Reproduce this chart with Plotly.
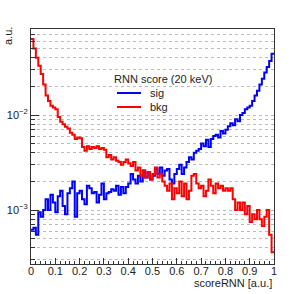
import numpy as np
import plotly.graph_objects as go

# 100 bins on [0, 1]
bin_edges = [round(i * 0.01, 2) for i in range(101)]

sig = [0.00062, 0.00065, 0.00055, 0.00095, 0.00085, 0.00100, 0.00130, 0.00100, 0.00145, 0.00120,
       0.00095, 0.00140, 0.00160, 0.00110, 0.00090, 0.00150, 0.00170, 0.00200, 0.00085, 0.00150,
       0.00160, 0.00130, 0.00115, 0.00180, 0.00170, 0.00150, 0.00155, 0.00120, 0.00145, 0.00190,
       0.00130, 0.00150, 0.00155, 0.00165, 0.00160, 0.00180, 0.00145, 0.00175, 0.00150, 0.00175,
       0.00190, 0.00240, 0.00210, 0.00190, 0.00230, 0.00200, 0.00260, 0.00220, 0.00250, 0.00210,
       0.00230, 0.00270, 0.00240, 0.00280, 0.00230, 0.00260, 0.00270, 0.00210, 0.00190, 0.00240,
       0.00270, 0.00300, 0.00240, 0.00280, 0.00320, 0.00360, 0.00340, 0.00400, 0.00420, 0.00440,
       0.00500, 0.00470, 0.00550, 0.00460, 0.00560, 0.00600, 0.00620, 0.00580, 0.00680, 0.00640,
       0.00700, 0.00760, 0.00820, 0.00780, 0.00900, 0.00860, 0.01000, 0.01050, 0.01150, 0.01200,
       0.01250, 0.01400, 0.01600, 0.01800, 0.02100, 0.02400, 0.02800, 0.03200, 0.03700, 0.04400]

bkg = [0.0630, 0.0500, 0.0400, 0.0330, 0.0270, 0.0210, 0.0160, 0.0140, 0.0125, 0.0120,
       0.0115, 0.0095, 0.0085, 0.0080, 0.0075, 0.0072, 0.0065, 0.0062, 0.0056, 0.0058,
       0.0057, 0.0046, 0.0042, 0.0047, 0.0044, 0.0046, 0.0045, 0.0047, 0.0044, 0.0045,
       0.0043, 0.0036, 0.0038, 0.0034, 0.0036, 0.0033, 0.0032, 0.0030, 0.0032, 0.0034,
       0.0031, 0.0029, 0.0032, 0.0026, 0.0028, 0.0023, 0.0026, 0.0022, 0.0025, 0.0021,
       0.0024, 0.0028, 0.0022, 0.0024, 0.0020, 0.0018, 0.0016, 0.0019, 0.0013, 0.0017,
       0.0015, 0.0020, 0.0014, 0.0019, 0.0013, 0.0016, 0.0023, 0.0024, 0.0019, 0.0017,
       0.0018, 0.0014, 0.0016, 0.0021, 0.0018, 0.0015, 0.0019, 0.0017, 0.0018, 0.0016,
       0.0017, 0.0016, 0.0017, 0.0013, 0.0010, 0.0012, 0.0010, 0.0012, 0.0009, 0.0011,
       0.00075, 0.0009, 0.0008, 0.0010, 0.0008, 0.00068, 0.00085, 0.0010, 0.00055, 0.00036]

series_names = ["sig", "bkg"]
series_colors = ["#0000ff", "#ff0000"]
legend_title = "RNN score (20 keV)"

x_ticks = [0, 0.1, 0.2, 0.3, 0.4, 0.5, 0.6, 0.7, 0.8, 0.9, 1]
x_ticktext = ["0", "0.1", "0.2", "0.3", "0.4", "0.5", "0.6", "0.7", "0.8", "0.9", "1"]
y_ticks = [1e-3, 1e-2]
y_ticktext = ["10<sup>−3</sup>", "10<sup>−2</sup>"]
y_minor = [3e-4, 4e-4, 5e-4, 6e-4, 7e-4, 8e-4, 9e-4,
           2e-3, 3e-3, 4e-3, 5e-3, 6e-3, 7e-3, 8e-3, 9e-3,
           2e-2, 3e-2, 4e-2, 5e-2, 6e-2, 7e-2, 8e-2]

FONT = "Liberation Sans, Arial, Helvetica, sans-serif"

# plot-area geometry in pixels
L, R, T, B = 31, 274, 29, 264
W, H = R - L, B - T


def px(x):
    return (x - L) / W


def py(y):
    return (B - y) / H


def step(vals):
    return bin_edges, list(vals) + [vals[-1]]


fig = go.Figure()
for name, vals, col in zip(series_names, [sig, bkg], series_colors):
    xs, ys = step(vals)
    fig.add_trace(go.Scatter(x=xs, y=ys, mode="lines", name=name, showlegend=False,
                             hoverinfo="skip",
                             line=dict(color=col, width=2, shape="hv")))

annotations = [
    dict(text="a.u.", xref="paper", yref="paper", x=px(8), y=py(25),
         xanchor="center", yanchor="top", textangle=-90, showarrow=False,
         font=dict(size=11)),
    dict(text="scoreRNN [a.u.]", xref="paper", yref="paper", x=1.0, y=py(283),
         xanchor="right", yanchor="middle", showarrow=False, font=dict(size=11)),
    dict(text=legend_title, xref="paper", yref="paper", x=px(112), y=py(79),
         xanchor="left", yanchor="middle", showarrow=False, font=dict(size=11)),
]
shapes = []
for i, (name, col) in enumerate(zip(series_names, series_colors)):
    yy = 93 + 14 * i
    shapes.append(dict(type="line", xref="paper", yref="paper", x0=px(117), x1=px(141),
                       y0=py(yy), y1=py(yy), line=dict(color=col, width=2)))
    annotations.append(dict(text=name, xref="paper", yref="paper", x=px(148), y=py(yy),
                            xanchor="left", yanchor="middle", showarrow=False,
                            font=dict(size=11)))

fig.update_layout(
    width=305, height=294,
    margin=dict(l=L, r=305 - R, t=T, b=294 - B, autoexpand=False),
    paper_bgcolor="white", plot_bgcolor="white",
    font=dict(family=FONT, size=11, color="#222"),
    showlegend=False,
    xaxis=dict(range=[0, 1], tickvals=x_ticks, ticktext=x_ticktext, automargin=False,
               ticks="inside", ticklen=6, tickcolor="#333", showgrid=False,
               ticklabelstandoff=-3,
               showline=True, linecolor="#333", linewidth=1, mirror=True,
               zeroline=False,
               minor=dict(dtick=0.02, ticks="inside", ticklen=3, tickcolor="#333")),
    yaxis=dict(type="log", range=[-3.568, -1.095], tickvals=y_ticks, ticktext=y_ticktext,
               automargin=False,
               ticks="inside", ticklen=8, tickcolor="#333",
               showgrid=True, gridcolor="#bbbbbb", griddash="dot", gridwidth=1,
               showline=True, linecolor="#333", linewidth=1, mirror=True,
               zeroline=False,
               minor=dict(tickvals=y_minor, ticks="inside", ticklen=4, tickcolor="#333",
                          showgrid=True, gridcolor="#bbbbbb", griddash="dot", gridwidth=1)),
    annotations=annotations,
    shapes=shapes,
)

fig.write_html("out.html", config={"displayModeBar": False},
               post_script="document.body.style.margin='0';document.body.style.padding='0';")
